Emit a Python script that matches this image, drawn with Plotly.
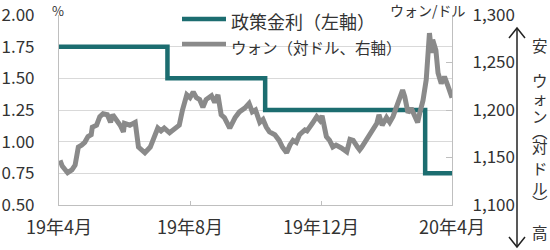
import plotly.graph_objects as go

# ---------------- data ----------------
rate_dates = ["2019-04-01", "2019-07-11", "2019-10-10", "2020-03-07", "2020-04-01"]
rate_values = [1.75, 1.50, 1.25, 0.75, 0.75]

won_dates = [
    "2019-04-02", "2019-04-04", "2019-04-09", "2019-04-13", "2019-04-16", "2019-04-19",
    "2019-04-22", "2019-04-25", "2019-04-28", "2019-05-01", "2019-05-02", "2019-05-06",
    "2019-05-09", "2019-05-12", "2019-05-16", "2019-05-19", "2019-05-21", "2019-05-25",
    "2019-05-28", "2019-05-31", "2019-06-01", "2019-06-06", "2019-06-11", "2019-06-14",
    "2019-06-17", "2019-06-20", "2019-06-25", "2019-06-28", "2019-06-29", "2019-07-02",
    "2019-07-05", "2019-07-08", "2019-07-13", "2019-07-18", "2019-07-22", "2019-07-25",
    "2019-07-29", "2019-08-01", "2019-08-04", "2019-08-07", "2019-08-10", "2019-08-13",
    "2019-08-16", "2019-08-21", "2019-08-24", "2019-08-27", "2019-08-30", "2019-09-02",
    "2019-09-07", "2019-09-12", "2019-09-16", "2019-09-21", "2019-09-25", "2019-09-28",
    "2019-10-01", "2019-10-05", "2019-10-08", "2019-10-11", "2019-10-14", "2019-10-19",
    "2019-10-23", "2019-10-26", "2019-10-30", "2019-11-02", "2019-11-05", "2019-11-08",
    "2019-11-11", "2019-11-16", "2019-11-18", "2019-11-23", "2019-11-27", "2019-11-30",
    "2019-12-02", "2019-12-06", "2019-12-09", "2019-12-12", "2019-12-15", "2019-12-20",
    "2019-12-25", "2019-12-28", "2019-12-31", "2020-01-04", "2020-01-06", "2020-01-08",
    "2020-01-12", "2020-01-17", "2020-01-22", "2020-01-24", "2020-01-27", "2020-01-31",
    "2020-02-03", "2020-02-06", "2020-02-09", "2020-02-12", "2020-02-15", "2020-02-17",
    "2020-02-20", "2020-02-23", "2020-02-26", "2020-02-29", "2020-03-02", "2020-03-05",
    "2020-03-08", "2020-03-11", "2020-03-13", "2020-03-14", "2020-03-17", "2020-03-19",
    "2020-03-22", "2020-03-25", "2020-03-28", "2020-04-01",
]
won_values = [
    1147, 1141, 1134, 1137, 1142, 1161,
    1163, 1166, 1172, 1174, 1182, 1184,
    1193, 1196, 1195, 1187, 1195, 1189,
    1184, 1177, 1186, 1184, 1187, 1161,
    1157, 1155, 1161, 1170, 1174, 1181,
    1178, 1181, 1176, 1181, 1184, 1200,
    1216, 1213, 1219, 1213, 1211, 1203,
    1211, 1215, 1208, 1216, 1195, 1192,
    1181, 1192, 1198, 1202, 1207, 1198,
    1200, 1187, 1190, 1182, 1177, 1174,
    1168, 1161, 1155, 1163, 1168, 1166,
    1174, 1179, 1178, 1186, 1193, 1189,
    1194, 1172, 1168, 1161, 1163, 1160,
    1156, 1169, 1168, 1161, 1158, 1161,
    1168, 1176, 1186, 1195, 1184, 1192,
    1187, 1193, 1203, 1213, 1221, 1214,
    1197, 1202, 1193, 1187, 1197, 1210,
    1232, 1281, 1260, 1274, 1263, 1239,
    1228, 1235, 1226, 1213,
]

x_tick_vals = ["2019-04-01", "2019-08-01", "2019-12-01", "2020-04-01"]
x_tick_text = ["19年4月", "19年8月", "19年12月", "20年4月"]
left_ticks = [0.50, 0.75, 1.00, 1.25, 1.50, 1.75, 2.00]
right_ticks = [1100, 1150, 1200, 1250, 1300]

rate_name = "政策金利（左軸）"
won_name = "ウォン（対ドル、右軸）"
side_label = ["安", "ウ", "ォ", "ン", "︵", "対", "ド", "ル", "︶", "高"]

# ---------------- style ----------------
W, H = 550, 250
L, R, T, B = 59, 452, 15, 205
FONT = "Noto Sans CJK JP"
TXT = "#333333"
TEAL = "#1c6d70"
GRAY = "#8a8a8a"
side_y = [45, 80, 98, 116, 131, 146, 168, 188, 202, 232]


def px(x):
    return (x - L) / (R - L)


def py(y):
    return (B - y) / (B - T)


fig = go.Figure()
fig.add_trace(go.Scatter(
    x=rate_dates, y=rate_values, mode="lines", line=dict(color=TEAL, width=4.5, shape="hv"),
    name=rate_name, showlegend=False, yaxis="y",
))
fig.add_trace(go.Scatter(
    x=won_dates, y=won_values, mode="lines", line=dict(color=GRAY, width=5),
    name=won_name, showlegend=False, yaxis="y2",
))

shapes = []
annotations = []

# legend (drawn manually for exact sample length)
shapes.append(dict(type="rect", xref="paper", yref="paper", x0=px(178), x1=px(398),
                   y0=py(60), y1=py(8), fillcolor="white", line=dict(width=0), layer="below"))
for (yy, col, ty, name, fs) in [(19, TEAL, 21, rate_name, 18), (44, GRAY, 47, won_name, 15.5)]:
    shapes.append(dict(type="line", xref="paper", yref="paper", x0=px(182), x1=px(226),
                       y0=py(yy), y1=py(yy), line=dict(color=col, width=4.5)))
    annotations.append(dict(text=name, xref="paper", yref="paper", x=px(229), y=py(ty),
                            xanchor="left", yanchor="middle", showarrow=False,
                            font=dict(family=FONT, size=fs, color=TXT)))

# unit labels
annotations.append(dict(text="%", xref="paper", yref="paper", x=px(58), y=py(11),
                        xanchor="center", yanchor="middle", showarrow=False,
                        font=dict(family=FONT, size=13, color=TXT)))
annotations.append(dict(text="ウォン/ドル", xref="paper", yref="paper", x=px(428), y=py(10),
                        xanchor="center", yanchor="middle", showarrow=False,
                        font=dict(family=FONT, size=14, color=TXT)))

# vertical arrow with open heads
AX = 517
shapes.append(dict(type="line", xref="paper", yref="paper", x0=px(AX), x1=px(AX),
                   y0=py(28), y1=py(247), line=dict(color="#222222", width=1.5)))
shapes.append(dict(type="path", xref="paper", yref="paper",
                   path=f"M {px(AX-8)},{py(38)} L {px(AX)},{py(28)} L {px(AX+8)},{py(38)}",
                   line=dict(color="#222222", width=1.5)))
shapes.append(dict(type="path", xref="paper", yref="paper",
                   path=f"M {px(AX-8)},{py(237)} L {px(AX)},{py(247)} L {px(AX+8)},{py(237)}",
                   line=dict(color="#222222", width=1.5)))

# vertical side label, one character per annotation
for ch, yy in zip(side_label, side_y):
    annotations.append(dict(text=ch, xref="paper", yref="paper", x=px(540), y=py(yy),
                            xanchor="center", yanchor="middle", showarrow=False,
                            font=dict(family=FONT, size=15.5, color=TXT)))

fig.update_layout(
    template="none",
    width=W, height=H, autosize=False,
    margin=dict(l=L, r=W - R, t=T, b=H - B, pad=0, autoexpand=False),
    paper_bgcolor="white", plot_bgcolor="white",
    font=dict(family=FONT, size=16, color=TXT),
    showlegend=False,
    xaxis=dict(
        type="date", range=["2019-04-01", "2020-04-01"], automargin=False,
        tickmode="array", tickvals=x_tick_vals, ticktext=x_tick_text,
        ticks="inside", ticklen=4, tickcolor="#bfbfbf",
        showline=True, linecolor="#bfbfbf", linewidth=1.2,
        showgrid=False, zeroline=False, ticklabelstandoff=6,
        tickfont=dict(family=FONT, size=18, color=TXT),
    ),
    yaxis=dict(
        range=[0.5, 2.0], tickmode="array", tickvals=left_ticks, automargin=False,
        ticktext=[f"{v:.2f}" for v in left_ticks],
        showline=True, linecolor="#bfbfbf", linewidth=1.2,
        showgrid=True, gridcolor="#d9d9d9", gridwidth=1, zeroline=False,
        ticks="", ticklabelstandoff=20,
        tickfont=dict(family=FONT, size=17, color=TXT),
    ),
    yaxis2=dict(
        range=[1100, 1300], overlaying="y", side="right", tickmode="array", automargin=False,
        tickvals=right_ticks, ticktext=[f"{v:,}" for v in right_ticks],
        showline=True, linecolor="#bfbfbf", linewidth=1.2,
        showgrid=False, zeroline=False,
        ticks="inside", ticklen=6, tickcolor="#bfbfbf", ticklabelstandoff=16,
        tickfont=dict(family=FONT, size=17, color=TXT),
    ),
    shapes=shapes, annotations=annotations,
)

fig.write_html("out.html")
